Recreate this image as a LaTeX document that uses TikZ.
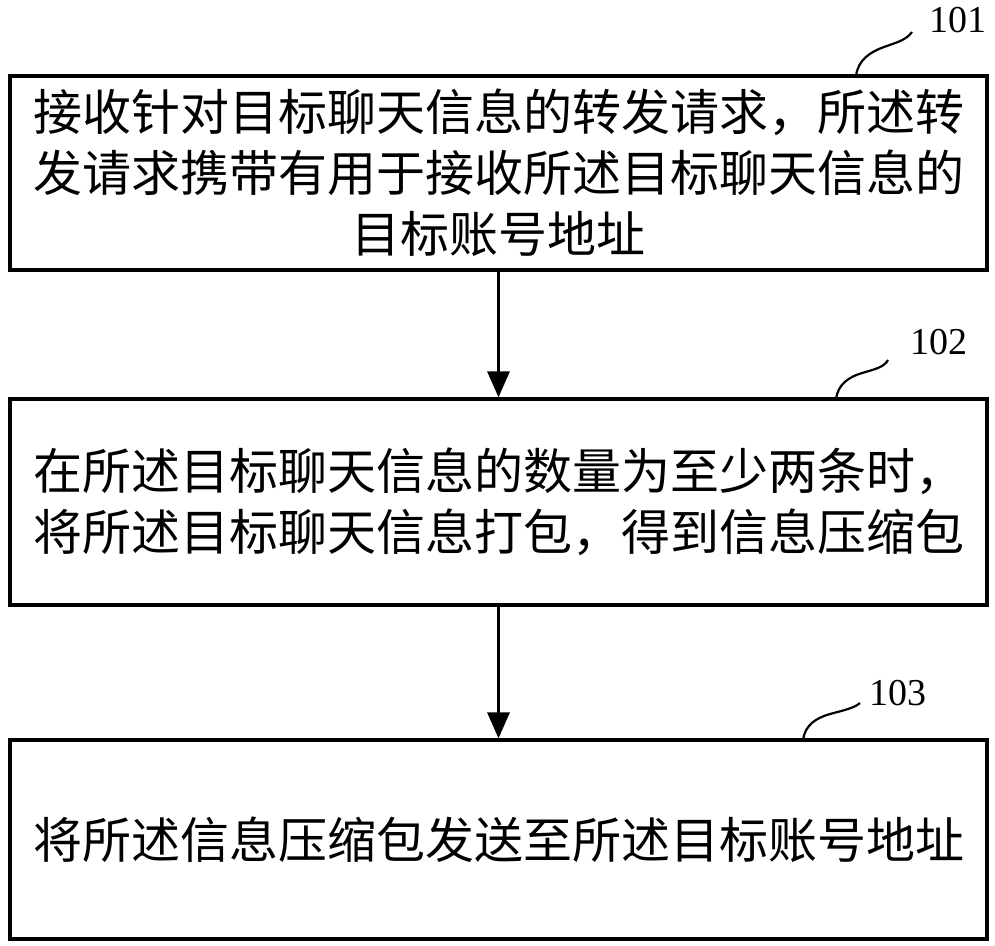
\documentclass[tikz,border=0pt]{standalone}
\usepackage{fontspec}
\setmainfont{Liberation Serif}
\newfontfamily\cjk{Noto Sans CJK SC}
\usetikzlibrary{arrows.meta}
\tikzset{
  stepbox/.style={draw, line width=3.2pt, rectangle, inner sep=0pt, align=center,
    font=\cjk\fontsize{49}{61}\selectfont},
  flow/.style={line width=3pt, -{Triangle[width=22pt,length=26pt]}},
  tagline/.style={line width=2.2pt},
  tag/.style={font=\fontsize{38}{40}\selectfont, inner sep=0pt}
}
\begin{document}
\begin{tikzpicture}[x=1pt,y=-1pt]
\useasboundingbox (0,0) rectangle (995,945);
\node[stepbox, minimum width=977pt, minimum height=194pt] (b1) at (498.5,173)
  {接收针对目标聊天信息的转发请求，所述转\\发请求携带有用于接收所述目标聊天信息的\\目标账号地址};
\node[stepbox, minimum width=977pt, minimum height=206pt] (b2) at (498.5,502)
  {在所述目标聊天信息的数量为至少两条时，\\将所述目标聊天信息打包，得到信息压缩包};
\node[stepbox, minimum width=977pt, minimum height=199pt] (b3) at (498.5,839.5)
  {将所述信息压缩包发送至所述目标账号地址};
\draw[flow] (b1.south) -- (b2.north);
\draw[flow] (b2.south) -- (b3.north);
\coordinate (s1) at (856,76);
\coordinate (e1) at (912,32);
\coordinate (s2) at (836,399);
\coordinate (e2) at (888,360);
\coordinate (s3) at (803,740);
\coordinate (e3) at (860,703);
\node[tag] (t1) at (958,20) {101};
\node[tag] (t2) at (939,342) {102};
\node[tag] (t3) at (898,693) {103};
\draw[tagline] (s1) .. controls (858,60) and (870,52) .. (884,47) .. controls (898,42) and (906,40) .. (e1);
\draw[tagline] (s2) .. controls (838,384) and (849,377) .. (862,373) .. controls (876,369) and (884,367) .. (e2);
\draw[tagline] (s3) .. controls (805,725) and (816,718) .. (830,714) .. controls (845,710) and (854,708) .. (e3);
\end{tikzpicture}
\end{document}
